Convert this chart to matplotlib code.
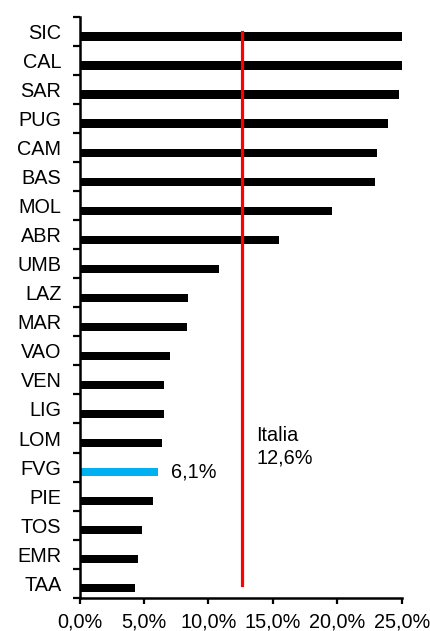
import matplotlib
matplotlib.use("Agg")
import matplotlib.pyplot as plt
import numpy as np

regions = ["SIC", "CAL", "SAR", "PUG", "CAM", "BAS", "MOL", "ABR", "UMB", "LAZ",
           "MAR", "VAO", "VEN", "LIG", "LOM", "FVG", "PIE", "TOS", "EMR", "TAA"]
values = [25.1, 25.1, 24.8, 23.9, 23.1, 22.95, 19.6, 15.5, 10.85, 8.44,
          8.37, 7.02, 6.56, 6.56, 6.43, 6.1, 5.70, 4.82, 4.51, 4.28]
highlight = "FVG"
italia = 12.6
xticks = [0, 5, 10, 15, 20, 25]
xticklabels = ["0,0%", "5,0%", "10,0%", "15,0%", "20,0%", "25,0%"]

plt.rcParams['font.family'] = ['Liberation Sans', 'DejaVu Sans']
FS = 14.3

fig = plt.figure(figsize=(4.3, 6.31), dpi=100)
ax = fig.add_axes([79.5/430, 1-597.7/631, (401.7-79.5)/430, (597.7-17)/631])

n = len(regions)
pos = np.arange(n)
colors = ['#00B0F0' if r == highlight else 'black' for r in regions]
ax.barh(pos + 0.17, values, height=0.28, color=colors, zorder=2)

ax.plot([italia, italia], [0, 19.05], color='#FF0000', lw=2.3, zorder=3)

hi = regions.index(highlight)
ax.annotate(f"{values[hi]:.1f}".replace('.', ',') + "%", xy=(values[hi], hi + 0.17),
            xytext=(9, 0), textcoords='offset points', va='center', ha='left', fontsize=FS)
ax.annotate("Italia\n" + f"{italia:.1f}".replace('.', ',') + "%", xy=(italia, 14.3),
            xytext=(10.5, 0), textcoords='offset points', va='center', ha='left',
            fontsize=FS, linespacing=1.2)

ax.set_xlim(0, 25)
ax.set_ylim(n - 0.5, -0.5)
ax.set_xticks(xticks)
ax.set_xticklabels(xticklabels, fontsize=FS)
ax.set_yticks(pos)
ax.set_yticklabels(regions, fontsize=FS)
ax.set_yticks(np.arange(n + 1) - 0.5, minor=True)
ax.tick_params(axis='y', which='major', length=0, pad=13)
ax.tick_params(axis='y', which='minor', length=5.2, width=1.6, direction='out')
ax.tick_params(axis='x', which='major', length=4.2, width=1.6, pad=6.5)
for s in ['top', 'right']:
    ax.spines[s].set_visible(False)
for s in ['left', 'bottom']:
    ax.spines[s].set_linewidth(1.8)

fig.savefig("out.png", dpi=100)
